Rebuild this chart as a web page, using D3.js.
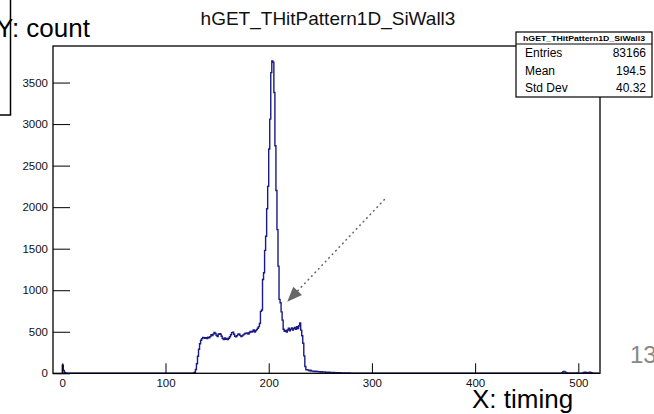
<!DOCTYPE html>
<html>
<head>
<meta charset="utf-8">
<script src="https://cdn.jsdelivr.net/npm/d3@7"></script>
<style>
  html, body { margin: 0; padding: 0; background: #fff; }
  svg { display: block; font-family: "Liberation Sans", Arial, sans-serif; }
</style>
</head>
<body>
<div id="chart"></div>
<script>
(function(){
    const width = 654;
    const height = 414;

    // histogram contents, 1-unit bins, given by first bin + counts
    const lowStart = 0;
    const lowCounts = [98, 34, 10, 4, 2];

    const mainStart = 126;
    const mainCounts = [
        0, 3, 12, 45, 115, 205, 290, 355, 398, 418, 432, 428, 420, 430, 418, 434,
        426, 442, 465, 455, 472, 492, 480, 456, 442, 470, 478, 470, 446, 420, 406, 426,
        410, 420, 405, 422, 440, 464, 490, 494, 470, 446, 440, 454, 470, 474, 456, 442,
        450, 462, 472, 484, 478, 486, 472, 492, 504, 498, 506, 522, 496, 512, 526, 542,
        562, 600, 745, 762, 1130, 1210, 1480, 1650, 1980, 2250, 2700, 3060, 3620, 3760, 3745, 3380,
        2740, 2200, 1730, 1290, 890, 850, 740, 640, 530, 505, 515, 498, 522, 542, 512, 532,
        546, 520, 540, 552, 530, 562, 540, 572, 606, 520, 452, 362, 210, 82, 42, 44,
        38, 30, 36, 28, 26, 24, 22, 25
    ];

    const tailStart = 246;
    const tailCounts = [
        20, 22, 18, 19, 16, 18, 15, 14, 16, 12, 13, 11, 12, 10, 9, 10, 8, 9, 7, 8,
        6, 7, 5, 6, 5, 4, 5, 3, 4, 3, 3, 2, 3, 2, 2
    ];

    const highStart = 484;
    const highCounts = [
        8, 18, 22, 14, 6, 3, 2, 2, 3, 2, 2, 3, 2, 2, 3, 2, 2, 2, 2, 2,
        4, 10, 12, 11, 9, 8, 10, 12, 6, 3
    ];

    const xDomain = [-9, 521];
    const yDomain = [0, 3940];
    const xMajor = [0, 100, 200, 300, 400, 500];
    const xMinor = d3.range(0, 521, 20);
    const yMajor = [0, 500, 1000, 1500, 2000, 2500, 3000, 3500];
    const yMinor = d3.range(0, 3901, 100);

    const histName = "hGET_THitPattern1D_SiWall3";
    const statLabels = ["Entries", "Mean", "Std Dev"];
    const statValues = ["83166", "194.5", "40.32"];

    // frame
    const frame = { left: 53, right: 600, top: 46, bottom: 373.3 };

    const svg = d3.select("#chart")
        .append("svg")
        .attr("width", width)
        .attr("height", height);

    const x = d3.scaleLinear().domain(xDomain).range([frame.left, frame.right]);
    const y = d3.scaleLinear().domain(yDomain).range([frame.bottom, frame.top]);

    // collect all bins in order
    const bins = [];
    [[lowStart, lowCounts], [mainStart, mainCounts], [tailStart, tailCounts], [highStart, highCounts]]
        .forEach(([start, counts]) => {
            counts.forEach((c, i) => bins.push({ lo: start + i, hi: start + i + 1, c: c }));
        });

    // step outline like ROOT "hist" draw option
    const pts = [[0, 0]];
    let last = 0;
    bins.forEach(b => {
        if (b.lo !== last) { pts.push([last, 0]); pts.push([b.lo, 0]); }
        pts.push([b.lo, b.c]);
        pts.push([b.hi, b.c]);
        last = b.hi;
    });
    pts.push([last, 0]);
    pts.push([520, 0]);

    const line = d3.line()
        .x(d => x(d[0]))
        .y(d => y(d[1]));

    svg.append("path")
        .attr("d", line(pts))
        .attr("fill", "none")
        .attr("stroke", "#1b1b85")
        .attr("stroke-width", 1.4)
        .attr("stroke-linejoin", "miter");

    // axes, ticks inside the frame
    const gx = svg.append("g").attr("transform", `translate(0,${frame.bottom})`);
    gx.call(d3.axisBottom(x).tickValues(xMinor).tickSize(-5).tickFormat(""));
    gx.call(d3.axisBottom(x).tickValues(xMajor).tickSize(-10).tickPadding(6).tickFormat(d3.format("d")));
    gx.selectAll(".domain").remove();

    const gy = svg.append("g").attr("transform", `translate(${frame.left},0)`);
    gy.call(d3.axisLeft(y).tickValues(yMinor).tickSize(-9).tickFormat(""));
    gy.call(d3.axisLeft(y).tickValues(yMajor).tickSize(-17).tickPadding(5).tickFormat(d3.format("d")));
    gy.selectAll(".domain").remove();

    svg.selectAll(".tick line").attr("stroke", "#000").attr("stroke-width", 1);
    svg.selectAll(".tick text")
        .style("font-family", "'Liberation Sans', Arial, sans-serif")
        .style("font-size", "11.5px")
        .attr("fill", "#111");

    svg.append("rect")
        .attr("x", frame.left)
        .attr("y", frame.top)
        .attr("width", frame.right - frame.left)
        .attr("height", frame.bottom - frame.top)
        .attr("fill", "none")
        .attr("stroke", "#000")
        .attr("stroke-width", 1.3);

    // title
    svg.append("text")
        .attr("x", 328)
        .attr("y", 25)
        .attr("text-anchor", "middle")
        .style("font-size", "19px")
        .attr("fill", "#111")
        .text(histName);

    // stats box
    const box = { x: 516, y: 32, w: 136, h: 65, head: 12 };
    const sb = svg.append("g");
    sb.append("rect")
        .attr("x", box.x).attr("y", box.y)
        .attr("width", box.w).attr("height", box.h)
        .attr("fill", "#fff")
        .attr("stroke", "#000")
        .attr("stroke-width", 1.2);
    sb.append("line")
        .attr("x1", box.x).attr("x2", box.x + box.w)
        .attr("y1", box.y + box.head).attr("y2", box.y + box.head)
        .attr("stroke", "#000");
    sb.append("text")
        .attr("x", box.x + box.w / 2)
        .attr("y", box.y + 9)
        .attr("text-anchor", "middle")
        .attr("textLength", 122)
        .attr("lengthAdjust", "spacingAndGlyphs")
        .style("font-size", "8px")
        .style("font-weight", "bold")
        .text(histName);
    const rowH = (box.h - box.head) / 3;
    statLabels.forEach((s, i) => {
        const cy = box.y + box.head + rowH * (i + 0.5);
        sb.append("text")
            .attr("x", box.x + 9).attr("y", cy)
            .attr("dy", "0.36em")
            .style("font-size", "12px")
            .text(s);
        sb.append("text")
            .attr("x", box.x + box.w - 6).attr("y", cy)
            .attr("dy", "0.36em")
            .attr("text-anchor", "end")
            .style("font-size", "12px")
            .text(statValues[i]);
    });

    // dotted arrow pointing at the shoulder of the peak
    const arrowFrom = [312, 2090];
    const arrowTo = [218, 860];
    const ax0 = x(arrowFrom[0]), ay0 = y(arrowFrom[1]);
    const ax1 = x(arrowTo[0]), ay1 = y(arrowTo[1]);
    const ang = Math.atan2(ay1 - ay0, ax1 - ax0);
    const headLen = 15, headW = 6;
    const bx = ax1 - headLen * Math.cos(ang), by = ay1 - headLen * Math.sin(ang);
    svg.append("line")
        .attr("x1", ax0).attr("y1", ay0)
        .attr("x2", bx).attr("y2", by)
        .attr("stroke", "#666")
        .attr("stroke-width", 1.6)
        .attr("stroke-linecap", "round")
        .attr("stroke-dasharray", "0.5,4.5");
    svg.append("polygon")
        .attr("points", [
            [ax1, ay1],
            [bx + headW * Math.sin(ang), by - headW * Math.cos(ang)],
            [bx - headW * Math.sin(ang), by + headW * Math.cos(ang)]
        ].map(p => p.join(",")).join(" "))
        .attr("fill", "#666");

    // slide annotations
    svg.append("rect")
        .attr("x", -10).attr("y", -10)
        .attr("width", 20.5).attr("height", 125)
        .attr("fill", "none")
        .attr("stroke", "#000")
        .attr("stroke-width", 1.5);

    svg.append("text")
        .attr("x", -4).attr("y", 37)
        .style("font-size", "26px")
        .attr("fill", "#000")
        .text("Y: count");

    svg.append("text")
        .attr("x", 472).attr("y", 408)
        .style("font-size", "26px")
        .attr("fill", "#000")
        .text("X: timing");

    svg.append("text")
        .attr("x", 630).attr("y", 363)
        .style("font-size", "24px")
        .attr("fill", "#888")
        .text("13");
})();
</script>
</body>
</html>
